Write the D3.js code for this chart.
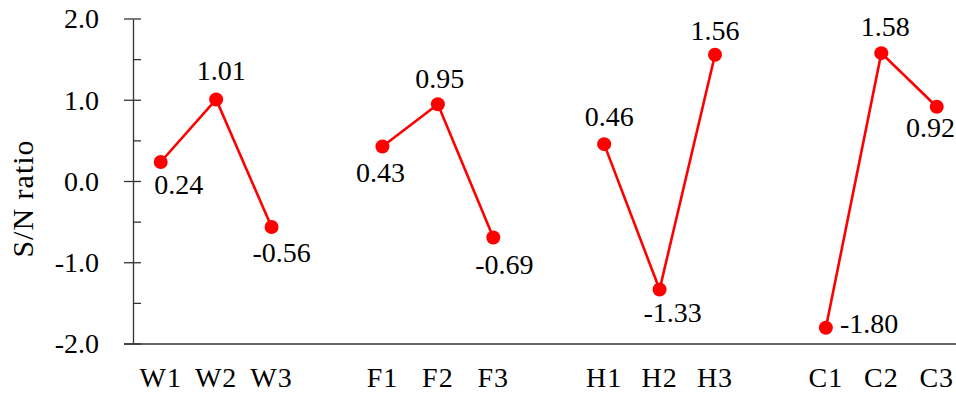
<!DOCTYPE html>
<html>
<head>
<meta charset="utf-8">
<script src="https://cdn.jsdelivr.net/npm/d3@7"></script>
<style>
  html, body { margin: 0; padding: 0; background: #fff; }
  svg { display: block; }
  text { font-family: "Liberation Serif", "Times New Roman", serif; fill: #000; }
</style>
</head>
<body>
<svg id="chart" width="956" height="395"></svg>
<script>
// ---- data ----
const slots = ["W1","W2","W3","gap1","F1","F2","F3","gap2","H1","H2","H3","gap3","C1","C2","C3"];
const groups = [
  ["W1","W2","W3"],
  ["F1","F2","F3"],
  ["H1","H2","H3"],
  ["C1","C2","C3"]
];
const groupValues = [
  [0.24, 1.01, -0.56],
  [0.43, 0.95, -0.69],
  [0.46, -1.33, 1.56],
  [-1.80, 1.58, 0.92]
];
const yTicks = [-2, -1, 0, 1, 2];
const yMinorTicks = [-1.5, -0.5, 0.5, 1.5];
const yTitle = "S/N ratio";

// ---- label styling (placement + small nudges, in px) ----
const labelPlacement = [
  ["below","above","below"],
  ["below","above","below"],
  ["above","below","above"],
  ["right","above","below"]
];
const labelNudge = [
  [[18, 32], [5, -19], [10, 35]],
  [[-2, 35], [2, -16], [11, 36]],
  [[5, -18], [13, 32], [0, -15]],
  [[14, 5], [4, -17], [0, 30]]
];

// ---- layout ----
const W = 956, H = 395;
const plotLeft = 133, plotTop = 19, plotBottom = 344;
const fontSize = 28;
const fmt1 = v => d3.format(".1f")(v).replace("\u2212", "-");
const fmt2 = v => d3.format(".2f")(v).replace("\u2212", "-");

const svg = d3.select("#chart");

const x = d3.scaleBand()
  .domain(slots)
  .range([plotLeft, plotLeft + 15 * 55.43])
  .paddingInner(0).paddingOuter(0);

const y = d3.scaleLinear().domain([-2, 2]).range([plotBottom, plotTop]);

const cx = k => x(k) + x.bandwidth() / 2;

// x axis line
svg.append("line")
  .attr("x1", 124).attr("x2", W)
  .attr("y1", plotBottom).attr("y2", plotBottom)
  .attr("stroke", "#333").attr("stroke-width", 1.3);

// y axis using d3.axisLeft
const yAxis = svg.append("g")
  .attr("transform", `translate(${plotLeft},0)`)
  .call(d3.axisLeft(y).tickValues(yTicks).tickFormat(fmt1).tickSize(0).tickPadding(34));
yAxis.select(".domain").attr("stroke", "#333").attr("stroke-width", 1.3);
yAxis.selectAll("text")
  .style("font-family", '"Liberation Serif", serif')
  .style("font-size", fontSize + "px")
  .attr("fill", "#000");

// major ticks crossing the axis
svg.append("g").selectAll("line").data(yTicks).join("line")
  .attr("x1", plotLeft - 9).attr("x2", plotLeft + 8)
  .attr("y1", d => y(d)).attr("y2", d => y(d))
  .attr("stroke", "#333").attr("stroke-width", 1.3);
// minor ticks inside
svg.append("g").selectAll("line").data(yMinorTicks).join("line")
  .attr("x1", plotLeft).attr("x2", plotLeft + 8)
  .attr("y1", d => y(d)).attr("y2", d => y(d))
  .attr("stroke", "#333").attr("stroke-width", 1.3);

// y title
svg.append("text")
  .attr("transform", `translate(33,${(plotTop + plotBottom) / 2 + 17}) rotate(-90)`)
  .attr("text-anchor", "middle")
  .style("font-size", "30px")
  .style("letter-spacing", "1px")
  .text(yTitle);

// x category labels
const allCats = groups.flat();
svg.append("g").selectAll("text").data(allCats).join("text")
  .attr("x", d => cx(d))
  .attr("y", 387)
  .attr("text-anchor", "middle")
  .style("font-size", fontSize + "px")
  .style("letter-spacing", "1px")
  .text(d => d);

// lines and points per group
const line = d3.line().x(d => cx(d.cat)).y(d => y(d.v));
groups.forEach((cats, gi) => {
  const pts = cats.map((c, i) => ({
    cat: c, v: groupValues[gi][i], pos: labelPlacement[gi][i], nudge: labelNudge[gi][i]
  }));
  svg.append("path")
    .datum(pts)
    .attr("d", line)
    .attr("fill", "none")
    .attr("stroke", "#ff0000")
    .attr("stroke-width", 2.6);
  svg.append("g").selectAll("circle").data(pts).join("circle")
    .attr("cx", d => cx(d.cat))
    .attr("cy", d => y(d.v))
    .attr("r", 7)
    .attr("fill", "#ff0000");
  svg.append("g").selectAll("text").data(pts).join("text")
    .attr("x", d => cx(d.cat) + d.nudge[0])
    .attr("y", d => y(d.v) + d.nudge[1])
    .attr("text-anchor", d => d.pos === "right" ? "start" : "middle")
    .style("font-size", fontSize + "px")
    .text(d => fmt2(d.v))
    .each(function () {
      // keep labels inside the picture
      const bb = this.getBBox();
      if (bb.x + bb.width > W - 1) {
        d3.select(this).attr("x", +d3.select(this).attr("x") - (bb.x + bb.width - (W - 1)));
      }
    });
});
</script>
</body>
</html>
